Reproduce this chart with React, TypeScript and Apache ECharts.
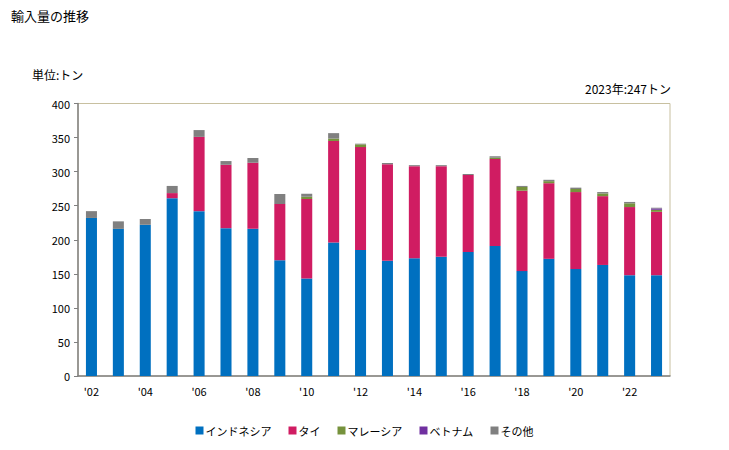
import React, { useEffect, useRef } from "react";
import * as echarts from "echarts";

const years = ["2002","2003","2004","2005","2006","2007","2008","2009","2010","2011","2012","2013","2014","2015","2016","2017","2018","2019","2020","2021","2022","2023"];
const indonesia = [232,216,222,261,242,217,216,170,143,196,185,169,173,175,182,191,154,172,157,163,148,148];
const thailand = [0,0,0,7.5,109,93,97,82.5,117,149,151,142,135,133,113,127.5,118,111,113,101,100,93];
const malaysia = [0,0,0,0,0,0,0,0,3,3.5,4,0,0,0,0,2,5.5,3,4.5,4,5.5,3];
const vietnam = [0,0,0,0,0,0,0,0,0,0,0,0,0,0,0,0,0,0,0,0,0,2];
const others = [10,11,8.5,10.5,10,5.5,7,14.5,4.5,8,1,1.5,1.5,1.5,1.5,2,1.5,2,2,2,2,1];
const yTicks = [0, 50, 100, 150, 200, 250, 300, 350, 400];

const FONT = "'Noto Sans CJK JP', 'Noto Sans', sans-serif";

export default function App() {
  const ref = useRef<HTMLDivElement>(null);
  useEffect(() => {
    document.body.style.margin = "0";
    if (!ref.current) return;
    const chart = echarts.init(ref.current, null, { renderer: "svg" });
    const mk = (name: string, data: number[], color: string) => ({
      name,
      type: "bar",
      stack: "total",
      data,
      barWidth: "41%",
      itemStyle: { color },
    });
    chart.setOption({
      animation: false,
      textStyle: { fontFamily: FONT },
      title: [
        { text: "輸入量の推移", left: 6, top: 4, textStyle: { fontSize: 13, fontWeight: "normal", color: "#000", fontFamily: FONT } },
        { text: "単位:トン", left: 27, top: 63, textStyle: { fontSize: 12, fontWeight: "normal", color: "#000", fontFamily: FONT } },
        { text: "2023年:247トン", right: 53, top: 77, textStyle: { fontSize: 12, fontWeight: "normal", color: "#000", fontFamily: FONT } },
      ],
      legend: {
        bottom: 9,
        left: "center",
        itemWidth: 8,
        itemHeight: 8,
        itemGap: 17,
        icon: "rect",
        textStyle: { fontSize: 11, color: "#000", fontFamily: FONT, padding: [0, 0, 0, -3] },
        data: ["インドネシア", "タイ", "マレーシア", "ベトナム", "その他"],
      },
      grid: {
        left: 78,
        right: 59,
        top: 103.5,
        bottom: 74,
        show: true,
        borderColor: "#c8c0a0",
        borderWidth: 1,
      },
      xAxis: {
        type: "category",
        data: years,
        axisLine: { lineStyle: { color: "#808080", width: 1.5 } },
        axisTick: { show: false },
        axisLabel: {
          interval: 1,
          color: "#000",
          fontSize: 11,
          margin: 9,
          formatter: (v: string) => "'" + v.slice(2),
        },
      },
      yAxis: {
        type: "value",
        min: yTicks[0],
        max: yTicks[yTicks.length - 1],
        interval: 50,
        axisLine: { show: true, lineStyle: { color: "#808080", width: 1.5 } },
        axisTick: { show: true, length: 4, lineStyle: { color: "#808080" } },
        splitLine: { show: false },
        axisLabel: { color: "#000", fontSize: 11, margin: 8 },
      },
      series: [
        mk("インドネシア", indonesia, "#0070c0"),
        mk("タイ", thailand, "#d01c62"),
        mk("マレーシア", malaysia, "#76923c"),
        mk("ベトナム", vietnam, "#7030a0"),
        mk("その他", others, "#808080"),
      ],
    });
    return () => chart.dispose();
  }, []);
  return <div ref={ref} style={{ width: 729, height: 450 }} />;
}
